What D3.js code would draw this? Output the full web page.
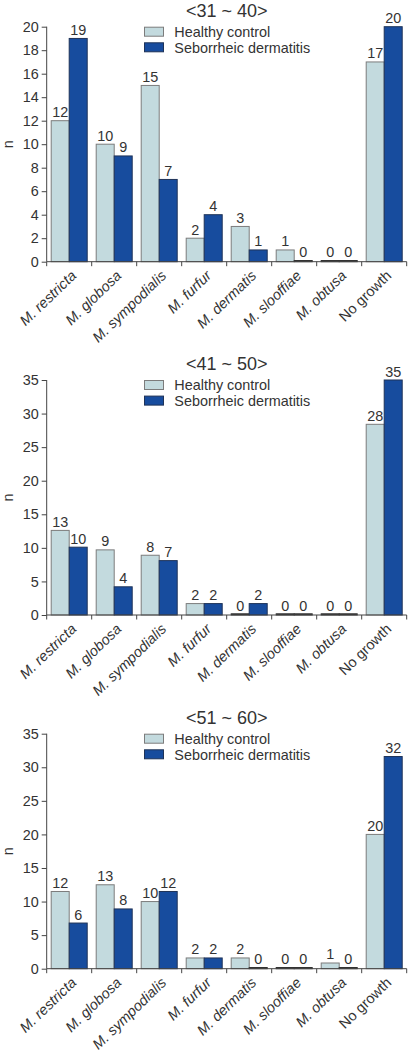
<!DOCTYPE html>
<html><head><meta charset="utf-8">
<script src="https://cdn.jsdelivr.net/npm/d3@7"></script>
<style>html,body{margin:0;padding:0;background:#fff;} svg{display:block;}</style>
</head><body>
<script>
const categories = ["M. restricta","M. globosa","M. sympodialis","M. furfur","M. dermatis","M. slooffiae","M. obtusa","No growth"];
const seriesNames = ["Healthy control","Seborrheic dermatitis"];
const panelTitles = ["<31 ~ 40>","<41 ~ 50>","<51 ~ 60>"];
const yMaxes = [20, 35, 35];
const yTicksA = [0,2,4,6,8,10,12,14,16,18,20];
const yTicksB = [0,5,10,15,20,25,30,35];

// bar heights as drawn
const healthy3140 = [12,10,15,2,3,1,0,17];
const sd3140      = [19,9,7,4,1,0,0,20];
const healthy4150 = [12.6,9.7,8.9,1.7,0,0,0,28.4];
const sd4150      = [10.1,4.2,8.1,1.7,1.7,0,0,35];
const healthy5160 = [11.5,12.5,10.0,1.6,1.6,0,0.85,20];
const sd5160      = [6.8,8.9,11.5,1.6,0,0,0,31.6];
// printed value labels
const healthyLbl3140 = [12,10,15,2,3,1,0,17];
const sdLbl3140      = [19,9,7,4,1,0,0,20];
const healthyLbl4150 = [13,9,8,2,0,0,0,28];
const sdLbl4150      = [10,4,7,2,2,0,0,35];
const healthyLbl5160 = [12,13,10,2,2,0,1,20];
const sdLbl5160      = [6,8,12,2,0,0,0,32];

const panels = [
  {title: panelTitles[0], yMax: yMaxes[0], ticks: yTicksA, h: healthy3140, s: sd3140, hl: healthyLbl3140, sl: sdLbl3140},
  {title: panelTitles[1], yMax: yMaxes[1], ticks: yTicksB, h: healthy4150, s: sd4150, hl: healthyLbl4150, sl: sdLbl4150},
  {title: panelTitles[2], yMax: yMaxes[2], ticks: yTicksB, h: healthy5160, s: sd5160, hl: healthyLbl5160, sl: sdLbl5160}
];

const W = 410, H = 1056;
const font = "'Liberation Sans', Arial, sans-serif";
const colors = ["#c3dade", "#174c9e"];
const strokes = ["#7c7c7c", "#1f3358"];
const textCol = "#333";
const fs = 14.4;

const svg = d3.select("body").append("svg").attr("width", W).attr("height", H)
  .style("font-family", font);

const left = 46.7, right = 406.7, plotH = 235;
const tops = [26.7, 380, 733.7];

panels.forEach((p, pi) => {
  const top = tops[pi];
  const g = svg.append("g");
  const x = d3.scaleBand().domain(categories).range([left, right]).paddingInner(0).paddingOuter(0);
  const x1 = d3.scaleBand().domain([0,1]).range([0, x.bandwidth()]).paddingOuter(0.25).paddingInner(0);
  const y = d3.scaleLinear().domain([0, p.yMax]).range([top + plotH, top]);
  const y0 = y(0);

  // title
  g.append("text").attr("x", 226.7).attr("y", top - 10).attr("text-anchor", "middle")
    .attr("font-size", 18).attr("fill", textCol).text(p.title);

  // legend
  seriesNames.forEach((nm, i) => {
    const ly = top + i * 15.6;
    g.append("rect").attr("x", 144.5).attr("y", ly + 0.5).attr("width", 19).attr("height", 9)
      .attr("fill", colors[i]).attr("stroke", strokes[i]).attr("stroke-width", 1);
    g.append("text").attr("x", 174.3).attr("y", ly + 10.2).attr("font-size", fs)
      .attr("fill", textCol).text(nm);
  });

  // y axis
  const ya = g.append("g").attr("transform", `translate(${left},0)`)
    .call(d3.axisLeft(y).tickValues(p.ticks).tickSize(5).tickPadding(3).tickFormat(d3.format("d")));
  ya.select(".domain").attr("stroke", "#444").attr("d", `M0,${y0}V${top}`);
  ya.selectAll(".tick line").attr("stroke", "#444");
  ya.selectAll(".tick text").attr("font-size", fs).attr("fill", textCol).attr("font-family", font);

  g.append("text").attr("transform", `translate(13,${(top + y0) / 2}) rotate(-90)`)
    .attr("text-anchor", "middle").attr("font-size", fs).attr("fill", textCol).text("n");

  // bars
  const series = [p.h, p.s];
  const lbls = [p.hl, p.sl];
  series.forEach((vals, si) => {
    g.selectAll(null).data(vals).enter().append("rect")
      .attr("x", (d, i) => x(categories[i]) + x1(si))
      .attr("width", x1.bandwidth())
      .attr("y", d => Math.min(y(d), y0 - 1.2))
      .attr("height", d => Math.max(y0 - y(d), 1.2))
      .attr("fill", d => d > 0 ? colors[si] : "#333")
      .attr("stroke", d => d > 0 ? strokes[si] : "#333")
      .attr("stroke-width", 1);
    g.selectAll(null).data(vals).enter().append("text")
      .attr("x", (d, i) => x(categories[i]) + x1(si) + x1.bandwidth() / 2)
      .attr("y", d => Math.min(y(d), y0 - 1) - 3.5)
      .attr("text-anchor", "middle").attr("font-size", fs).attr("fill", textCol)
      .text((d, i) => lbls[si][i]);
  });

  // x axis
  g.append("line").attr("x1", left).attr("x2", right).attr("y1", y0).attr("y2", y0)
    .attr("stroke", "#444").attr("stroke-width", 1);
  const bounds = categories.map(c => x(c)).concat([right]);
  g.selectAll(null).data(bounds).enter().append("line")
    .attr("x1", d => d).attr("x2", d => d).attr("y1", y0).attr("y2", y0 + 4.5)
    .attr("stroke", "#444");
  g.selectAll(null).data(categories).enter().append("text")
    .attr("transform", c => `translate(${x(c) + x.bandwidth() / 2 + 8},${y0 + 15}) rotate(-44)`)
    .attr("text-anchor", "end").attr("font-size", 14.5).attr("fill", textCol)
    .attr("font-style", c => c.startsWith("M.") ? "italic" : "normal")
    .text(c => c);
});
</script>
</body></html>
